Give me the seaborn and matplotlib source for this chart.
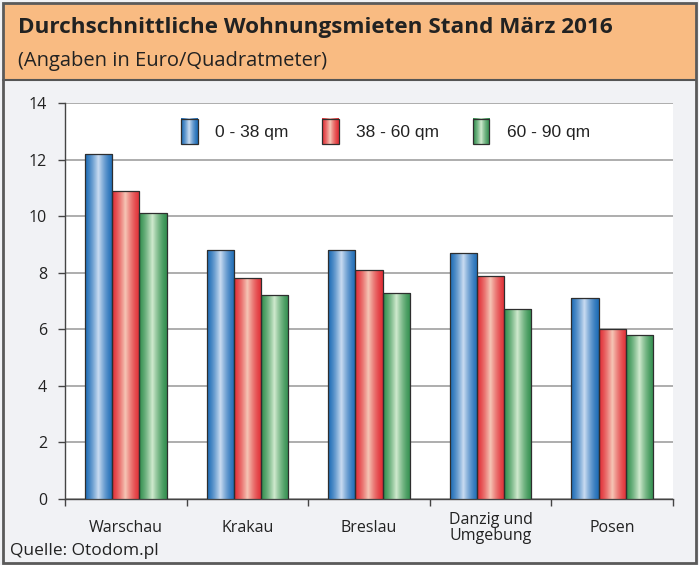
import numpy as np
import pandas as pd
import matplotlib
matplotlib.use("Agg")
import matplotlib.pyplot as plt
import seaborn as sns
from matplotlib.patches import Rectangle
from matplotlib.colors import LinearSegmentedColormap
from matplotlib.legend_handler import HandlerBase
from matplotlib.image import BboxImage
from matplotlib.transforms import Bbox, TransformedBbox

# ---- data ----
cities = ["Warschau", "Krakau", "Breslau", "Danzig und\nUmgebung", "Posen"]
series = ["0 - 38 qm", "38 - 60 qm", "60 - 90 qm"]
v_small = [12.2, 8.8, 8.8, 8.7, 7.1]
v_mid = [10.9, 7.8, 8.1, 7.9, 6.0]
v_large = [10.1, 7.2, 7.3, 6.7, 5.8]
yticks = [0, 2, 4, 6, 8, 10, 12, 14]
title = "Durchschnittliche Wohnungsmieten Stand März 2016"
subtitle = "(Angaben in Euro/Quadratmeter)"
source = "Quelle: Otodom.pl"

df = pd.DataFrame({
    "Stadt": cities * 3,
    "Größe": [series[0]] * 5 + [series[1]] * 5 + [series[2]] * 5,
    "Miete": v_small + v_mid + v_large,
})

dark = ["#1466b3", "#e0262f", "#2a8a48"]
light = ["#cadcf1", "#f5c6b6", "#d0eace"]
cmaps = [LinearSegmentedColormap.from_list(f"g{i}", [dark[i], light[i]]) for i in range(3)]

t = np.linspace(0, 1, 64)
prof = np.clip(1 - np.abs(t - 0.48) / 0.56, 0, 1) ** 1.5
prof = prof + (t > 0.48) * 0.08 * (t - 0.48)
grad = prof[np.newaxis, :]

sns.set_theme(style="white")
FONT = ["Open Sans", "DejaVu Sans"]
plt.rcParams["font.family"] = FONT

fig = plt.figure(figsize=(6.99, 5.65), dpi=100)
W, H = 699, 565

def fx(px):
    return px / W

def fy(py):
    return 1 - py / H

# backgrounds
fig.patch.set_facecolor("#f1f2f5")
fig.patches.append(Rectangle((fx(3), fy(80)), fx(693), 77 / H, transform=fig.transFigure,
                             fc="#f9bb82", ec="none", zorder=-10))
fig.lines.append(plt.Line2D([fx(3), fx(696)], [fy(80), fy(80)], transform=fig.transFigure,
                            color="#555555", lw=1.5, zorder=-9))
fig.patches.append(Rectangle((fx(3), fy(563)), fx(693), 560 / H, transform=fig.transFigure,
                             fc="none", ec="#5a5a5a", lw=2, zorder=5))

ax = fig.add_axes([fx(65), fy(499), fx(673 - 65), (499 - 103) / H])
ax.set_facecolor("white")

sns.barplot(data=df, x="Stadt", y="Miete", hue="Größe", order=cities, hue_order=series,
            palette=dark, width=0.67, ax=ax, legend=False, saturation=1, zorder=3)

for i, p in enumerate(ax.patches):
    si = i // len(cities)
    x, y = p.get_x(), p.get_y()
    w, h = p.get_width(), p.get_height()
    im = ax.imshow(grad, extent=[x, x + w, y, y + h], aspect="auto", cmap=cmaps[si],
                   vmin=0, vmax=1, interpolation="bilinear", zorder=3)
    im.set_clip_path(p)
    p.set_facecolor("none")
    p.set_edgecolor("#2e2e2e")
    p.set_linewidth(0.9)
    p.set_zorder(4)

ax.set_xlim(-0.5, 4.5)
ax.set_ylim(0, 14)
ax.set_yticks(yticks)
ax.yaxis.grid(True, color="#a0a0a0", lw=1.2, zorder=1)
ax.set_axisbelow(True)
for s in ["top", "right"]:
    ax.spines[s].set_visible(False)
for s in ["left", "bottom"]:
    ax.spines[s].set_color("#444444")
    ax.spines[s].set_linewidth(1.0)
ax.set_xlabel("")
ax.set_ylabel("")

ax.tick_params(axis="y", which="major", left=True, length=5, width=1, color="#444444",
               labelsize=11.5, labelcolor="#222222", pad=8)
ax.set_xticks(range(len(cities)))
ax.set_xticklabels(cities, fontsize=11.5, color="#222222", va="center", linespacing=1.05)
ax.tick_params(axis="x", which="major", length=0, pad=21)
ax.set_xticks(np.arange(-0.5, 5.0, 1.0), minor=True)
ax.tick_params(axis="x", which="minor", bottom=True, length=5, width=1, color="#444444")


class GradHandler(HandlerBase):
    def __init__(self, cmap):
        super().__init__()
        self.cmap = cmap

    def create_artists(self, legend, orig_handle, xdescent, ydescent, width, height,
                       fontsize, trans):
        bb = Bbox.from_bounds(-xdescent, -ydescent, width, height)
        img = BboxImage(TransformedBbox(bb, trans), cmap=self.cmap, norm=None,
                        interpolation="bilinear")
        img.set_data(grad)
        img.set_clim(0, 1)
        rect = Rectangle((-xdescent, -ydescent), width, height, fc="none",
                         ec="#2e2e2e", lw=0.9, transform=trans)
        return [img, rect]


handles = [Rectangle((0, 0), 1, 1, fc=dark[i]) for i in range(3)]
hmap = {handles[i]: GradHandler(cmaps[i]) for i in range(3)}
leg = ax.legend(handles, series, handler_map=hmap, loc="upper center",
                bbox_to_anchor=(0.527, 1.0), ncol=3, frameon=False,
                handlelength=0.95, handleheight=1.9, handletextpad=1.0,
                columnspacing=1.95, prop={"family": ["Liberation Sans", "DejaVu Sans"], "size": 12.5})
for txt in leg.get_texts():
    txt.set_color("#222222")

fig.text(fx(18), fy(28), title, fontsize=16.2, fontweight="bold", color="#222222",
         va="center", ha="left", family=FONT)
fig.text(fx(18), fy(61), subtitle, fontsize=14.5, color="#222222",
         va="center", ha="left", family=FONT)
fig.text(fx(10), fy(551), source, fontsize=12.5, color="#222222",
         va="center", ha="left", family=FONT)

fig.savefig("out.png", dpi=100, facecolor=fig.get_facecolor())
